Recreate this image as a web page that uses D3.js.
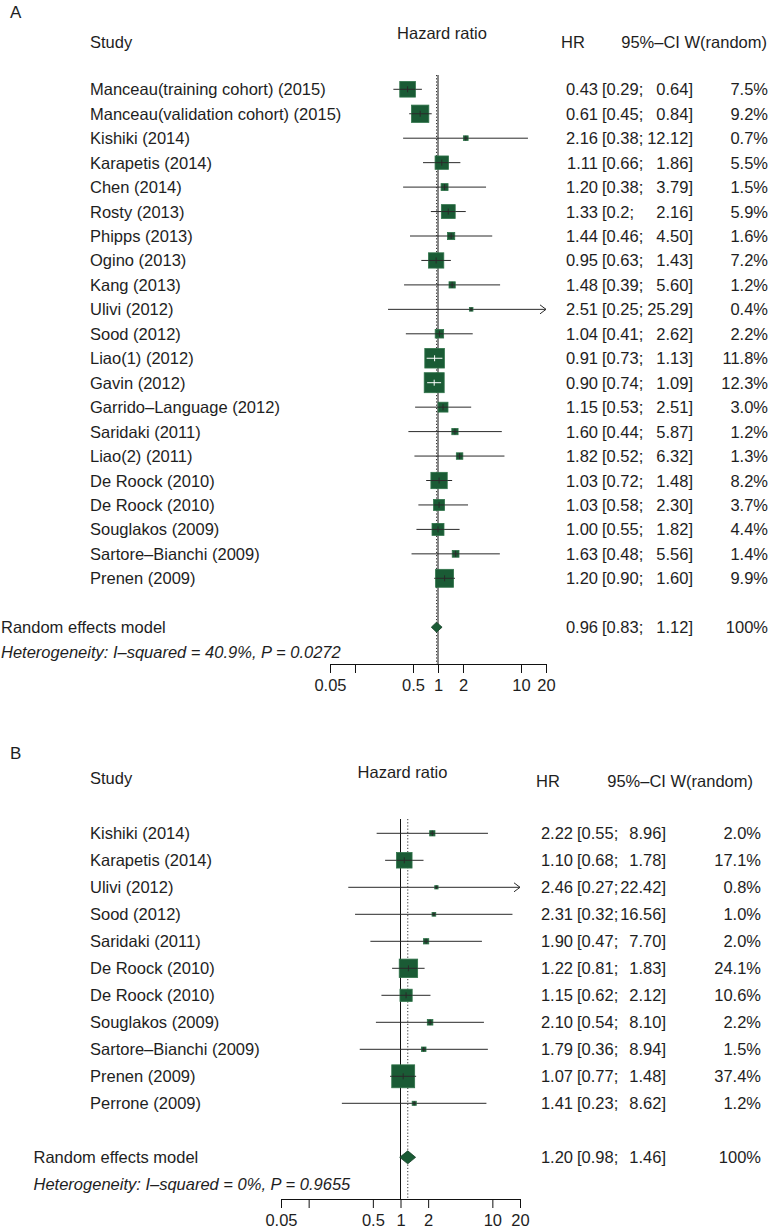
<!DOCTYPE html>
<html><head><meta charset="utf-8">
<script src="https://cdn.jsdelivr.net/npm/d3@7"></script>
<style>
body{margin:0;background:#fff;}
svg text{font-family:"Liberation Sans",Arial,Helvetica,sans-serif;fill:#1e1e1e;}
</style></head>
<body><svg id="c" width="769" height="1230"></svg>
<script>
// ---------- Panel A data ----------
const studiesA = ["Manceau(training cohort) (2015)","Manceau(validation cohort) (2015)","Kishiki (2014)","Karapetis (2014)","Chen (2014)","Rosty (2013)","Phipps (2013)","Ogino (2013)","Kang (2013)","Ulivi (2012)","Sood (2012)","Liao(1) (2012)","Gavin (2012)","Garrido–Language (2012)","Saridaki (2011)","Liao(2) (2011)","De Roock (2010)","De Roock (2010)","Souglakos (2009)","Sartore–Bianchi (2009)","Prenen (2009)"];
const hrA = [0.43,0.61,2.16,1.11,1.20,1.33,1.44,0.95,1.48,2.51,1.04,0.91,0.90,1.15,1.60,1.82,1.03,1.03,1.00,1.63,1.20];
const loA = [0.29,0.45,0.38,0.66,0.38,0.82,0.46,0.63,0.39,0.25,0.41,0.73,0.74,0.53,0.44,0.52,0.72,0.58,0.55,0.48,0.90];
const loLabelA = ["0.29","0.45","0.38","0.66","0.38","0.2","0.46","0.63","0.39","0.25","0.41","0.73","0.74","0.53","0.44","0.52","0.72","0.58","0.55","0.48","0.90"];
const hiA = [0.64,0.84,12.12,1.86,3.79,2.16,4.50,1.43,5.60,25.29,2.62,1.13,1.09,2.51,5.87,6.32,1.48,2.30,1.82,5.56,1.60];
const wA = [7.5,9.2,0.7,5.5,1.5,5.9,1.6,7.2,1.2,0.4,2.2,11.8,12.3,3.0,1.2,1.3,8.2,3.7,4.4,1.4,9.9];
const pooledA = {hr:0.96, lo:0.83, hi:1.12, w:"100%"};
const hetA = "Heterogeneity: I–squared = 40.9%, P = 0.0272";

// ---------- Panel B data ----------
const studiesB = ["Kishiki (2014)","Karapetis (2014)","Ulivi (2012)","Sood (2012)","Saridaki (2011)","De Roock (2010)","De Roock (2010)","Souglakos (2009)","Sartore–Bianchi (2009)","Prenen (2009)","Perrone (2009)"];
const hrB = [2.22,1.10,2.46,2.31,1.90,1.22,1.15,2.10,1.79,1.07,1.41];
const loB = [0.55,0.68,0.27,0.32,0.47,0.81,0.62,0.54,0.36,0.77,0.23];
const loLabelB = ["0.55","0.68","0.27","0.32","0.47","0.81","0.62","0.54","0.36","0.77","0.23"];
const hiB = [8.96,1.78,22.42,16.56,7.70,1.83,2.12,8.10,8.94,1.48,8.62];
const wB = [2.0,17.1,0.8,1.0,2.0,24.1,10.6,2.2,1.5,37.4,1.2];
const pooledB = {hr:1.20, lo:0.98, hi:1.46, w:"100%"};
const hetB = "Heterogeneity: I–squared = 0%, P = 0.9655";

// ---------- Axis ----------
const tickValues = [0.05,0.1,0.5,1,2,10,20];
const tickLabels = ["0.05","","0.5","1","2","10","20"];
const domainHR = [0.05,20];

const svg = d3.select("#c");
const FS = 16.5;
const BOX = "#1a5b35", BOXSTROKE = "#2f7349", LINE = "#2a2a2a";

function fmt(v){return v.toFixed(2);}

function panel(cfg){
  const g = svg.append("g");
  const x = d3.scaleLog().domain(domainHR).range(cfg.xr);
  const n = cfg.studies.length;
  const y = d3.scaleLinear().domain([0,1]).range([cfg.y0, cfg.y0+cfg.step]);

  // panel letter
  g.append("text").attr("x",10).attr("y",cfg.letterY).attr("font-size",17).text(cfg.letter);
  // headers
  g.append("text").attr("x",90).attr("y",cfg.hStudy).attr("font-size",FS).text("Study");
  g.append("text").attr("x",(cfg.xr[0]+cfg.xr[1])/2+cfg.hrTitleDx).attr("y",cfg.hHaz).attr("font-size",FS).attr("text-anchor","middle").text("Hazard ratio");
  g.append("text").attr("x",cfg.hrHeadX).attr("y",cfg.hHR).attr("font-size",FS).text("HR");
  g.append("text").attr("x",cfg.wHeadEnd).attr("y",cfg.hHR).attr("font-size",FS).attr("text-anchor","end").text("95%–CI W(random)");

  // reference lines
  g.append("line").attr("x1",x(1)).attr("x2",x(1)).attr("y1",cfg.vTop).attr("y2",cfg.axisY).attr("stroke","#111").attr("stroke-width",1);
  g.append("line").attr("x1",x(cfg.pooled.hr)).attr("x2",x(cfg.pooled.hr)).attr("y1",cfg.vTop).attr("y2",cfg.axisY).attr("stroke","#333").attr("stroke-width",1).attr("stroke-dasharray","1.2,2");

  // study rows
  for(let i=0;i<n;i++){
    const cy = y(i);
    const hr = cfg.hr[i], lo = cfg.lo[i], hi = cfg.hi[i];
    const xl = x(Math.max(lo,domainHR[0])), xh = x(Math.min(hi,domainHR[1]));
    const xe = x(hr);
    const s = cfg.boxK*Math.sqrt(cfg.w[i]);
    g.append("line").attr("x1",xl).attr("x2",xh).attr("y1",cy).attr("y2",cy).attr("stroke",LINE).attr("stroke-width",1);
    if(hi>domainHR[1]){
      g.append("path").attr("d",`M${xh-6},${cy-4.5}L${xh},${cy}L${xh-6},${cy+4.5}`).attr("fill","none").attr("stroke",LINE).attr("stroke-width",1);
    }
    g.append("rect").attr("x",xe-s/2).attr("y",cy-s/2).attr("width",s).attr("height",s)
      .attr("fill",BOX).attr("stroke",BOXSTROKE).attr("stroke-width",0.8);
    const inside = (xl>=xe-s/2 && xh<=xe+s/2);
    const col = inside ? "#ffffff" : LINE;
    const a = Math.max(xl,xe-s/2), b = Math.min(xh,xe+s/2);
    g.append("line").attr("x1",a).attr("x2",b).attr("y1",cy).attr("y2",cy).attr("stroke",col).attr("stroke-width",1);
    g.append("line").attr("x1",xe).attr("x2",xe).attr("y1",cy-Math.min(3,s/2)).attr("y2",cy+Math.min(3,s/2)).attr("stroke",col).attr("stroke-width",1);

    const ty = cy+6;
    g.append("text").attr("x",90).attr("y",ty).attr("font-size",FS).text(cfg.studies[i]);
    g.append("text").attr("x",cfg.xHR).attr("y",ty).attr("font-size",FS).attr("text-anchor","end").text(fmt(hr));
    g.append("text").attr("x",cfg.xLo).attr("y",ty).attr("font-size",FS).text("["+cfg.loLabel[i]+";");
    g.append("text").attr("x",cfg.xHi).attr("y",ty).attr("font-size",FS).attr("text-anchor","end").text(fmt(hi)+"]");
    g.append("text").attr("x",cfg.xW).attr("y",ty).attr("font-size",FS).attr("text-anchor","end").text(cfg.w[i].toFixed(1)+"%");
  }

  // pooled
  const py = y(n+1);
  const p = cfg.pooled;
  const dh = cfg.diamondH/2;
  g.append("path").attr("d",`M${x(p.lo)},${py}L${x(p.hr)},${py-dh}L${x(p.hi)},${py}L${x(p.hr)},${py+dh}Z`)
    .attr("fill",BOX).attr("stroke","#123d24").attr("stroke-width",0.8);
  g.append("text").attr("x",cfg.labX).attr("y",py+6).attr("font-size",FS).text("Random effects model");
  g.append("text").attr("x",cfg.xHR).attr("y",py+6).attr("font-size",FS).attr("text-anchor","end").text(fmt(p.hr));
  g.append("text").attr("x",cfg.xLo).attr("y",py+6).attr("font-size",FS).text("["+fmt(p.lo)+";");
  g.append("text").attr("x",cfg.xHi).attr("y",py+6).attr("font-size",FS).attr("text-anchor","end").text(fmt(p.hi)+"]");
  g.append("text").attr("x",cfg.xW).attr("y",py+6).attr("font-size",FS).attr("text-anchor","end").text(p.w);
  g.append("text").attr("x",cfg.labX).attr("y",y(n+2)+6).attr("font-size",FS).attr("font-style","italic").text(cfg.het);

  // axis
  const ax = d3.axisBottom(x).tickValues(tickValues).tickFormat((d,i)=>tickLabels[i]).tickSize(9).tickSizeOuter(0).tickPadding(6);
  const ag = g.append("g").attr("transform",`translate(0,${cfg.axisY})`).call(ax);
  ag.select(".domain").attr("stroke","#111");
  ag.selectAll(".tick line").attr("stroke","#111");
  ag.selectAll(".tick text").attr("font-size",FS).attr("font-family","Liberation Sans, Arial, sans-serif").attr("fill","#1e1e1e");
}

panel({letter:"A",letterY:18,studies:studiesA,hr:hrA,lo:loA,loLabel:loLabelA,hi:hiA,w:wA,pooled:pooledA,het:hetA,
  xr:[330,546],y0:89.3,step:24.45,boxK:5.7,diamondH:10,vTop:75,axisY:664,
  hStudy:48,hHaz:39,hHR:48,hrHeadX:561,wHeadEnd:767,hrTitleDx:4,
  xHR:598,xLo:602,xHi:693,xW:768,labX:1});
panel({letter:"B",letterY:759,studies:studiesB,hr:hrB,lo:loB,loLabel:loLabelB,hi:hiB,w:wB,pooled:pooledB,het:hetB,
  xr:[281,520],y0:833.3,step:27,boxK:3.75,diamondH:13,vTop:819,axisY:1199,
  hStudy:784,hHaz:778,hHR:787,hrHeadX:536,wHeadEnd:753,hrTitleDx:2,
  xHR:573,xLo:577,xHi:666,xW:761,labX:33.5});
</script></body></html>
